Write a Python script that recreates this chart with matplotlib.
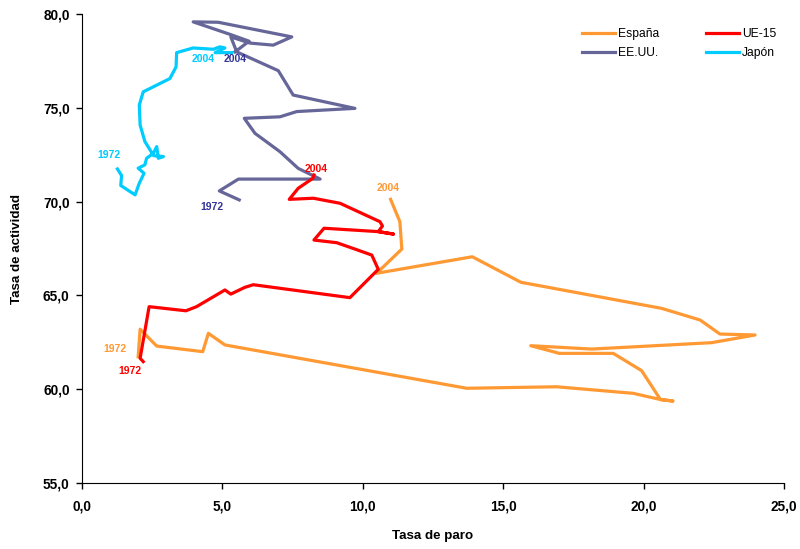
import matplotlib
matplotlib.use("Agg")
import matplotlib.pyplot as plt

plt.rcParams['font.family'] = ['Liberation Sans', 'DejaVu Sans']

# Tasa de paro (x) / Tasa de actividad (y), 1972 -> 2004
spain_x = [2.00, 2.07, 2.66, 4.30, 4.50, 5.09, 13.70, 16.90, 19.63, 20.60, 21.04, 20.60, 19.93,
           18.92, 17.00, 15.98, 18.15, 22.42, 23.97, 22.72, 22.01, 20.64, 15.63, 13.90, 10.49,
           11.39, 11.32, 10.99]
spain_y = [61.73, 63.20, 62.30, 62.00, 62.98, 62.36, 60.05, 60.13, 59.78, 59.45, 59.37, 59.45, 60.99,
           61.91, 61.91, 62.32, 62.14, 62.48, 62.89, 62.94, 63.69, 64.31, 65.70, 67.06, 66.18,
           67.47, 68.93, 70.12]

eu_x = [2.18, 2.07, 2.39, 3.70, 4.08, 5.09, 5.30, 5.80, 6.10, 9.54, 10.55, 10.32, 9.72, 9.07,
        8.26, 8.62, 10.55, 11.09, 10.55, 10.70, 10.61, 9.19, 8.24, 7.38, 7.70, 8.22, 8.26]
eu_y = [61.47, 61.65, 64.40, 64.18, 64.40, 65.29, 65.07, 65.43, 65.57, 64.88, 66.39, 67.15, 67.47, 67.81,
        67.95, 68.58, 68.40, 68.27, 68.40, 68.70, 68.93, 69.91, 70.18, 70.12, 70.71, 71.24, 71.42]

us_x = [5.60, 4.89, 5.57, 8.48, 7.70, 7.05, 6.16, 5.78, 7.05, 7.65, 9.72, 7.52, 6.99, 5.51,
        5.30, 5.98, 6.81, 7.47, 4.85, 3.96, 5.30, 5.95, 5.45]
us_y = [70.09, 70.57, 71.20, 71.20, 71.77, 72.66, 73.64, 74.44, 74.52, 74.80, 74.97, 75.68, 76.98, 77.98,
        78.78, 78.45, 78.34, 78.78, 79.56, 79.58, 78.90, 78.55, 77.98]

jp_x = [1.26, 1.41, 1.38, 1.89, 2.04, 2.21, 2.00, 2.24, 2.30, 2.54, 2.66, 2.72, 2.90, 2.55,
        2.24, 2.07, 2.04, 2.18, 3.13, 3.35, 3.37, 3.96, 4.68, 4.91, 5.09, 4.74, 5.33]
jp_y = [71.74, 71.39, 70.86, 70.36, 70.98, 71.51, 71.78, 71.96, 72.31, 72.57, 72.93, 72.31, 72.40, 72.45,
        73.20, 74.08, 75.15, 75.85, 76.56, 77.18, 77.94, 78.19, 78.12, 78.25, 78.19, 77.94, 77.94]

x_ticks = [0, 5, 10, 15, 20, 25]
y_ticks = [55, 60, 65, 70, 75, 80]

fig = plt.figure(figsize=(8.0, 5.49), dpi=100)
ax = fig.add_axes([0.1025, 0.1202, 0.8775, 0.8543])

# order chosen so the 2-column legend reads España, UE-15 / EE.UU., Japón
series = [
    (spain_x, spain_y, '#FF9933', '#FF9933', 'España', (-23, 8), (-2, 11)),
    (us_x, us_y, '#666699', '#333399', 'EE.UU.', (-27, -7), (0, -7)),
    (eu_x, eu_y, '#FF0000', '#FF0000', 'UE-15', (-13, -9), (2, 6)),
    (jp_x, jp_y, '#00CCFF', '#00CCFF', 'Japón', (-8, 14), (-29, -6)),
]

for xs, ys, col, tcol, name, off0, off1 in series:
    ax.plot(xs, ys, color=col, lw=2.3, label=name, solid_joinstyle='round')
    ax.annotate('1972', (xs[0], ys[0]), xytext=off0, textcoords='offset pixels',
                ha='center', va='center', color=tcol, fontsize=7.5, fontweight='bold')
    ax.annotate('2004', (xs[-1], ys[-1]), xytext=off1, textcoords='offset pixels',
                ha='center', va='center', color=tcol, fontsize=7.5, fontweight='bold')

ax.set_xlim(0, 25)
ax.set_ylim(55, 80)
ax.set_xticks(x_ticks)
ax.set_yticks(y_ticks)
ax.set_xticklabels([f"{v:.1f}".replace('.', ',') for v in x_ticks], fontsize=9.8, fontweight='bold')
ax.set_yticklabels([f"{v:.1f}".replace('.', ',') for v in y_ticks], fontsize=9.8, fontweight='bold')
ax.tick_params(axis='y', direction='out', length=4, width=1, pad=5)
ax.tick_params(axis='x', direction='out', length=4, width=1, pad=8)
ax.spines['top'].set_visible(False)
ax.spines['right'].set_visible(False)

ax.set_xlabel('Tasa de paro', fontsize=9.6, fontweight='bold', labelpad=12)
ax.set_ylabel('Tasa de actividad', fontsize=9.6, fontweight='bold', labelpad=14)

ax.legend(loc='upper left', bbox_to_anchor=(582 / 800, 1 - 28 / 549), bbox_transform=fig.transFigure,
          ncol=2, frameon=False, fontsize=8.7, handlelength=2.7, handletextpad=0.3,
          columnspacing=3.85, labelspacing=0.6, borderpad=0, borderaxespad=0)

fig.savefig('out.png', dpi=100)
